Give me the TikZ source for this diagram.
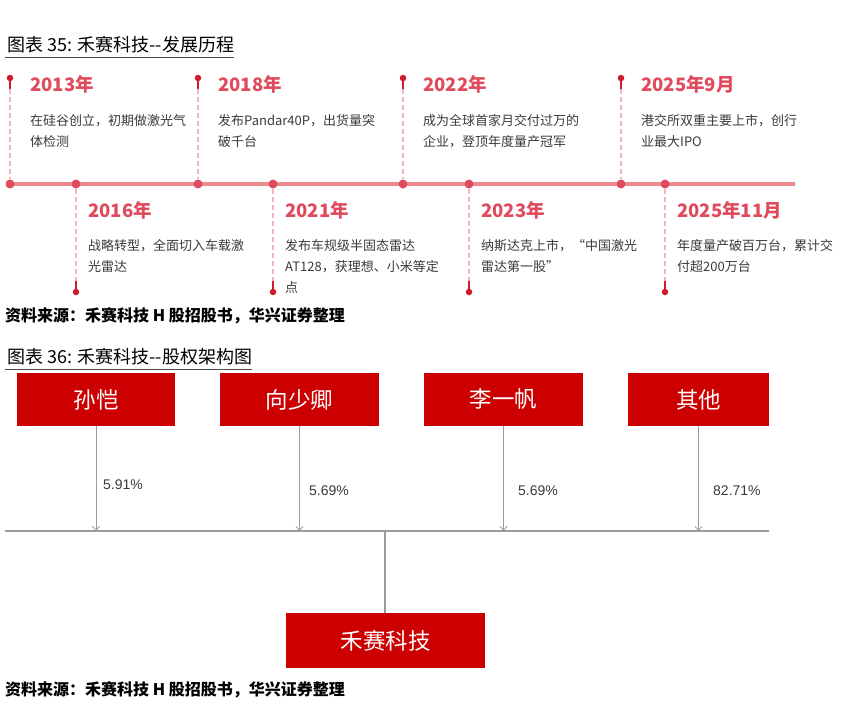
\documentclass[tikz,border=0pt]{standalone}
\usepackage{fontspec}
\setmainfont{Liberation Sans}
\newfontfamily\cjk{Noto Sans CJK SC}
\usetikzlibrary{positioning,arrows.meta}
\definecolor{tlred}{HTML}{EC8A90}
\definecolor{yearred}{HTML}{DF4A5C}
\definecolor{pinred}{HTML}{CF1B2B}
\definecolor{dashpink}{HTML}{F2B6BF}
\definecolor{boxred}{HTML}{CC0000}
\definecolor{txtgray}{HTML}{3A3A3A}
\definecolor{linegray}{HTML}{9B9B9B}
\tikzset{
  heading/.style={anchor=west,inner sep=0pt,font=\cjk\fontsize{18}{20}\selectfont},
  source/.style={anchor=west,inner sep=0pt,font=\cjk\bfseries\fontsize{16}{18}\selectfont},
  yeartext/.style={anchor=west,inner sep=0pt,text=yearred,font=\cjk\bfseries\fontsize{18.5}{20}\selectfont},
  desctext/.style={anchor=north west,inner sep=0pt,align=left,text=txtgray,font=\cjk\fontsize{13}{21}\selectfont},
  tldot/.style={circle,fill=yearred,inner sep=0pt,minimum size=9pt},
  pinhead/.style={circle,fill=pinred,inner sep=0pt,minimum size=6.5pt},
  pinline/.style={pinred,line width=1.6pt},
  dashline/.style={dashpink,line width=1.3pt,dash pattern=on 5pt off 3pt},
  holder/.style={fill=boxred,minimum width=158pt,minimum height=53pt,inner sep=0pt,text=white,font=\cjk\fontsize{22.5}{24}\selectfont},
  pct/.style={anchor=west,inner sep=0pt,text=txtgray,font=\fontsize{14}{16}\selectfont},
  share/.style={linegray,line width=0.8pt,-{Straight Barb[length=4pt,width=7pt]}},
}
\begin{document}
\begin{tikzpicture}[x=1pt,y=-1pt]
	\useasboundingbox (0,0) rectangle (841,704);

	% figure 35: timeline
	\node[heading] (ttl1) at (7,45) {图表 35: 禾赛科技--发展历程};
	\draw[black!70,line width=0.8pt] ([xshift=-2pt,yshift=-4pt]ttl1.south west) -- ([yshift=-4pt]ttl1.south east);

	\coordinate (tlstart) at (8,184);
	\coordinate (tlend) at (795,184);
	\draw[tlred,line width=3.5pt] (tlstart) -- (tlend);

	% events above the line
	\foreach \i/\x/\yr/\txt in {
		a/10/2013年/{在硅谷创立，初期做激光气\\体检测},
		b/198/2018年/{发布Pandar40P，出货量突\\破千台},
		c/403/2022年/{成为全球首家月交付过万的\\企业，登顶年度量产冠军},
		d/621/2025年9月/{港交所双重主要上市，创行\\业最大IPO}}
	{
		\node[tldot] (dot\i) at (\x,184) {};
		\node[pinhead] (pin\i) at (\x,78) {};
		\coordinate (stem\i) at (\x,89);
		\draw[dashline] (stem\i) -- (dot\i);
		\draw[pinline] (pin\i.center) -- (stem\i);
		\node[yeartext] (yr\i) at (\x+20,84) {\yr};
		\node[desctext] (txt\i) at (\x+20,114) {\txt};
	}

	% events below the line
	\foreach \i/\x/\yr/\txt in {
		e/76/2016年/{战略转型，全面切入车载激\\光雷达},
		f/273/2021年/{发布车规级半固态雷达\\AT128，获理想、小米等定\\点},
		g/469/2023年/{纳斯达克上市，“中国激光\\雷达第一股”},
		h/665/2025年11月/{年度量产破百万台，累计交\\付超200万台}}
	{
		\node[tldot] (dot\i) at (\x,184) {};
		\node[pinhead] (pin\i) at (\x,292) {};
		\coordinate (stem\i) at (\x,281);
		\draw[dashline] (dot\i) -- (stem\i);
		\draw[pinline] (stem\i) -- (pin\i.center);
		\node[yeartext] (yr\i) at (\x+12,210) {\yr};
		\node[desctext] (txt\i) at (\x+12,239) {\txt};
	}

	\node[source] (src1) at (5,316) {资料来源：禾赛科技 H 股招股书，华兴证券整理};

	% figure 36: shareholders
	\node[heading] (ttl2) at (7,357) {图表 36: 禾赛科技--股权架构图};
	\draw[black!70,line width=0.8pt] ([xshift=-2pt,yshift=-4pt]ttl2.south west) -- ([yshift=-4pt]ttl2.south east);

	\node[holder] (sunkai) at (96,399.5) {孙恺};
	\node[holder,minimum width=159pt] (xiang) at (299.5,399.5) {向少卿};
	\node[holder,minimum width=159pt] (li) at (503.5,399.5) {李一帆};
	\node[holder,minimum width=141pt] (other) at (698.5,399.5) {其他};

	\coordinate (barl) at (5,531);
	\coordinate (barr) at (769,531);
	\coordinate (barm) at (385,531);
	\draw[linegray,line width=2.5pt] (barl) -- (barr);

	\draw[share] (sunkai.south) -- (sunkai.south |- barl);
	\draw[share] (xiang.south) -- (xiang.south |- barl);
	\draw[share] (li.south) -- (li.south |- barl);
	\draw[share] (other.south) -- (other.south |- barl);

	\node[pct] (p1) at (103,485) {5.91\%};
	\node[pct] (p2) at (309,491) {5.69\%};
	\node[pct] (p3) at (518,491) {5.69\%};
	\node[pct] (p4) at (713,491) {82.71\%};

	\node[holder,minimum width=199pt,minimum height=55pt] (hesai) at (385.5,640.5) {禾赛科技};
	\draw[linegray,line width=2pt] (barm) -- (hesai.north -| barm);

	\node[source] (src2) at (5,690) {资料来源：禾赛科技 H 股招股书，华兴证券整理};
\end{tikzpicture}
\end{document}
